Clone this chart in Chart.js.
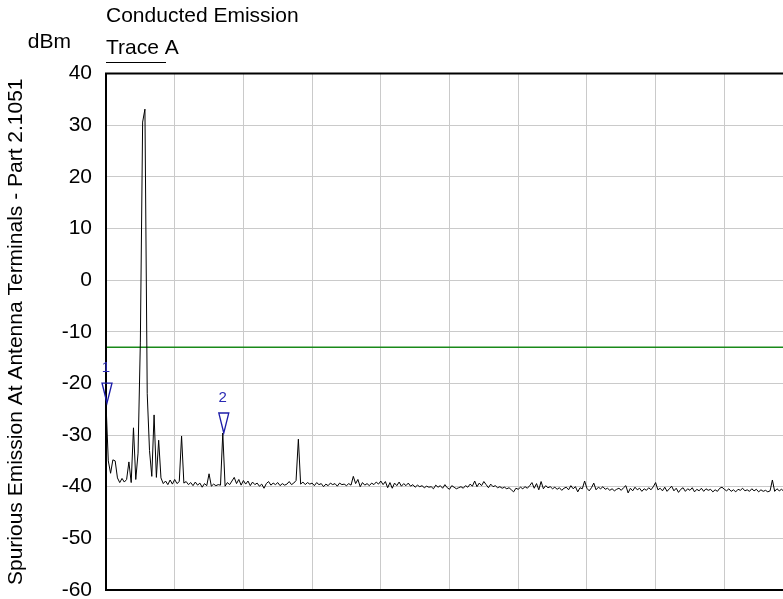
<!DOCTYPE html>
<html>
<head>
<meta charset="utf-8">
<script src="https://cdn.jsdelivr.net/npm/chart.js@4/dist/chart.umd.min.js"></script>
<style>
  html, body { margin: 0; padding: 0; background: #fff; overflow: hidden; }
  #wrap { width: 800px; height: 599px; }
</style>
</head>
<body>
<div id="wrap"><canvas id="emission" width="800" height="599"></canvas></div>
<script>
// Sweep span (GHz) and vertical divisions
const START_GHZ = 0;
const STOP_GHZ = 10;
const xDivisions = [0, 1, 2, 3, 4, 5, 6, 7, 8, 9, 10];
const yTicks = [40, 30, 20, 10, 0, -10, -20, -30, -40, -50, -60];

// Trace A, dBm, 301 sweep points
const traceA = [
  -23.8, -35.0, -37.4, -34.8, -35.0, -38.3, -39.2, -38.4, -39.1, -38.6,
  -35.2, -39.2, -28.6, -38.6, -33.5, -12.0, 30.6, 33.1, -22.0, -33.0,
  -38.0, -26.1, -38.2, -31.0, -38.3, -39.4, -38.9, -39.6, -38.7, -39.5,
  -38.6, -39.4, -39.0, -30.2, -39.3, -39.0, -39.6, -39.2, -39.8, -39.1,
  -39.7, -39.3, -40.1, -39.4, -39.8, -37.5, -39.9, -39.5, -39.8, -39.6,
  -39.7, -29.6, -39.9, -39.2, -39.6, -38.9, -38.2, -39.4, -38.6, -39.7,
  -38.8, -39.5, -38.9, -39.8, -39.1, -39.6, -39.3, -39.9, -39.5, -40.3,
  -39.4, -39.0, -39.7, -39.3, -39.6, -39.2, -39.8, -39.4, -39.7, -39.5,
  -39.0, -39.6, -39.3, -38.8, -30.8, -39.5, -39.1, -39.6, -39.2, -39.5,
  -39.3, -39.8, -39.2, -39.6, -39.4, -40.0, -39.5, -39.8, -39.3, -39.6,
  -39.4, -39.9, -39.3, -39.6, -39.5, -39.8, -39.4, -39.7, -38.0, -39.4,
  -38.6, -40.0, -39.2, -39.7, -39.4, -39.8, -39.3, -39.6, -39.1, -39.5,
  -38.9, -39.6, -39.0, -40.2, -39.2, -40.3, -39.3, -39.8, -39.1, -39.9,
  -39.4, -39.8, -39.3, -39.9, -39.6, -40.1, -39.7, -40.0, -39.8, -40.2,
  -39.9, -40.1, -40.0, -40.4, -39.7, -40.1, -39.8, -40.3, -39.6, -40.2,
  -40.5, -39.8, -40.1, -40.4, -40.2, -40.0, -40.3, -39.8, -40.1, -39.5,
  -39.9, -38.9, -40.0, -39.3, -39.8, -39.0, -39.6, -40.2, -39.5, -40.0,
  -39.8, -40.2, -40.0, -40.3, -40.1, -40.4, -40.2, -40.6, -41.0, -40.3,
  -40.5, -40.1, -40.4, -40.0, -40.3, -39.8, -39.2, -40.3, -39.4, -40.6,
  -39.0, -40.4, -39.8, -40.2, -40.0, -40.4, -40.1, -40.5, -40.2, -40.7,
  -40.3, -40.1, -40.6, -39.8, -40.4, -40.0, -41.0, -40.2, -40.4, -38.9,
  -40.3, -40.8, -40.2, -39.3, -40.6, -40.1, -40.4, -40.0, -40.5, -40.3,
  -40.7, -40.4, -40.8, -40.5, -40.3, -40.7, -40.2, -39.8, -41.2, -40.3,
  -40.8, -40.1, -40.6, -40.3, -40.9, -40.4, -40.7, -40.2, -40.6, -40.0,
  -39.2, -40.6, -40.3, -40.8, -40.1, -40.9, -40.4, -39.9, -40.8, -40.3,
  -41.1, -40.5, -40.2, -40.9, -40.4, -40.7, -40.2, -41.0, -40.5, -40.8,
  -40.3, -40.9, -40.4, -40.7, -40.5, -41.0, -40.6, -40.9, -40.3, -40.1,
  -40.5, -40.8, -40.4, -40.9, -40.6, -41.0, -40.5, -40.7, -40.3, -40.8,
  -40.6, -40.9, -40.4, -40.8, -40.5, -41.0, -40.6, -40.9, -40.7, -41.0,
  -40.8, -38.7, -40.9, -40.4, -40.8, -40.5, -40.9, -40.6, -40.8, -40.5,
  -40.7
];

// Limit line (dBm) and marker positions (sweep point index)
const limitDbm = -13;
const markerLabels = ['1', '2'];
const markerPoints = [0, 51];

const FONT = "'Liberation Sans', Arial, sans-serif";
const TEXT_SIZE = 21;

const sweepGHz = traceA.map((_, i) => START_GHZ + i * (STOP_GHZ - START_GHZ) / (traceA.length - 1));
const tracePts = traceA.map((v, i) => ({ x: sweepGHz[i], y: v }));
const limitPts = [{ x: START_GHZ, y: limitDbm }, { x: STOP_GHZ, y: limitDbm }];

// Frame, headings and markers drawn on top of the chart area
const plotDecor = {
  id: 'plotDecor',
  afterDatasetsDraw(chart) {
    const ctx = chart.ctx;
    const a = chart.chartArea;
    ctx.save();

    // frame
    ctx.strokeStyle = '#000';
    ctx.lineWidth = 2;
    ctx.beginPath();
    ctx.moveTo(a.right, a.top);
    ctx.lineTo(a.left, a.top);
    ctx.lineTo(a.left, a.bottom);
    ctx.lineTo(a.right, a.bottom);
    ctx.lineTo(a.right, a.top);
    ctx.stroke();

    // markers
    const meta = chart.getDatasetMeta(0);
    ctx.strokeStyle = '#1c1ca8';
    ctx.fillStyle = '#2a2ab4';
    ctx.lineWidth = 1.3;
    ctx.font = '15px ' + FONT;
    ctx.textAlign = 'center';
    ctx.textBaseline = 'alphabetic';
    markerPoints.forEach((idx, k) => {
      const p = meta.data[idx];
      const x = p.x + 1, y = p.y;
      ctx.beginPath();
      ctx.moveTo(x, y);
      ctx.lineTo(x - 5, y - 20);
      ctx.lineTo(x + 5, y - 20);
      ctx.closePath();
      ctx.stroke();
      ctx.fillText(markerLabels[k], x - 1, y - 31);
    });

    // headings
    ctx.fillStyle = '#000';
    ctx.font = TEXT_SIZE + 'px ' + FONT;
    ctx.textAlign = 'left';
    ctx.fillText('Conducted Emission', a.left, 22);
    ctx.fillText('Trace A', a.left, 54);
    ctx.textAlign = 'right';
    ctx.fillText('dBm', 71, 48);
    ctx.strokeStyle = '#000';
    ctx.lineWidth = 1;
    ctx.beginPath();
    ctx.moveTo(a.left, 62.5);
    ctx.lineTo(a.left + 60, 62.5);
    ctx.stroke();

    ctx.restore();
  }
};

new Chart(document.getElementById('emission'), {
  type: 'line',
  data: {
    datasets: [
      { label: 'Trace A', data: tracePts, borderColor: '#000', borderWidth: 1, pointRadius: 0, tension: 0, order: 1 },
      { label: 'Limit', data: limitPts, borderColor: '#1a8a1a', borderWidth: 1.6, pointRadius: 0, order: 2 }
    ]
  },
  options: {
    responsive: false,
    animation: false,
    events: [],
    layout: { padding: { left: 0, top: 73.5, right: 7, bottom: 9 } },
    plugins: { legend: { display: false }, tooltip: { enabled: false } },
    scales: {
      x: {
        type: 'linear', min: START_GHZ, max: STOP_GHZ,
        afterBuildTicks: s => { s.ticks = xDivisions.map(v => ({ value: v })); },
        afterFit: s => { s.height = 0; s.paddingLeft = 0; s.paddingRight = 0; },
        ticks: { display: false },
        grid: { color: '#cacaca', lineWidth: 1, drawTicks: false },
        border: { display: false }
      },
      y: {
        min: -60, max: 40,
        afterBuildTicks: s => { s.ticks = yTicks.map(v => ({ value: v })); },
        afterFit: s => { s.width = 106; s.paddingTop = 0; s.paddingBottom = 0; },
        ticks: { color: '#000', padding: 14, font: { family: FONT, size: TEXT_SIZE } },
        grid: { color: '#cacaca', lineWidth: 1, drawTicks: false },
        border: { display: false },
        title: {
          display: true,
          text: 'Spurious Emission At Antenna Terminals - Part 2.1051',
          color: '#000',
          font: { family: FONT, size: TEXT_SIZE },
          padding: { top: 4, bottom: 0 }
        }
      }
    }
  },
  plugins: [plotDecor]
});
</script>
</body>
</html>
